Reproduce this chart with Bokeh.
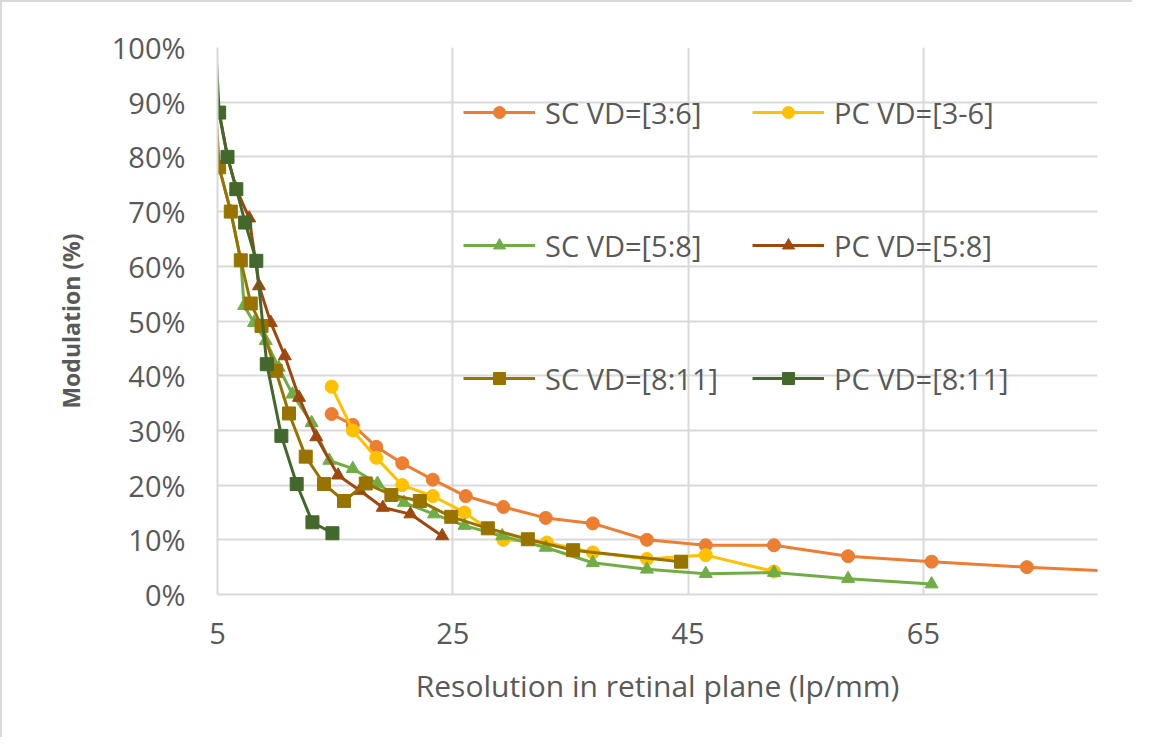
from bokeh.plotting import figure
from bokeh.models import Legend, LegendItem, Range1d, FixedTicker, PrintfTickFormatter
from bokeh.embed import file_html
from bokeh.resources import INLINE

# ---- data (x: lp/mm, y: modulation %) ----
sc36_x = [14.7, 16.5, 18.5, 20.7, 23.3, 26.1, 29.3, 32.9, 36.9, 41.5, 46.5, 52.3, 58.6, 65.7, 73.8, 84.0]
sc36_y = [33, 31, 27, 24, 21, 18, 16, 14, 13, 10, 9, 9, 7, 6, 5, 4]

pc36_x = [14.7, 16.5, 18.5, 20.7, 23.3, 26.0, 29.3, 33.0, 36.9, 41.5, 46.5, 52.3]
pc36_y = [38, 30, 25, 20, 18, 15, 10, 9.5, 7.7, 6.5, 7.2, 4.2]

sc58_x = [5.14, 6.13, 6.98, 7.26, 8.1, 9.1, 10.2, 11.37, 13.0, 14.5, 16.5, 18.6, 20.85, 23.4, 26.0, 29.2, 32.9, 36.9, 41.5, 46.5, 52.3, 58.6, 65.7]
sc58_y = [78.1, 70.0, 61.1, 52.8, 49.7, 46.4, 41.5, 36.6, 31.4, 24.5, 23.0, 20.3, 16.8, 14.7, 12.6, 10.7, 8.6, 5.8, 4.6, 3.8, 4.0, 2.9, 1.9]

pc58_x = [5.14, 5.85, 6.6, 7.7, 8.53, 9.53, 10.72, 11.93, 13.4, 15.25, 17.1, 19.05, 21.4, 24.1]
pc58_y = [88.1, 80, 74.1, 68.8, 56.4, 49.7, 43.6, 36.0, 28.8, 21.8, 19.0, 15.9, 14.7, 10.7]

sc811_x = [4.93, 5.14, 6.13, 6.98, 7.83, 8.74, 9.95, 11.08, 12.5, 14.05, 15.75, 17.6, 19.78, 22.2, 24.87, 27.98, 31.38, 35.23, 44.4]
sc811_y = [86, 78.1, 70.0, 61.1, 53.2, 49.1, 40.9, 33.1, 25.2, 20.2, 17.1, 20.3, 18.2, 17.1, 14.2, 12.1, 10.1, 8.1, 6.0]

pc811_x = [4.93, 5.14, 5.85, 6.6, 7.35, 8.3, 9.19, 10.43, 11.73, 13.07, 14.77]
pc811_y = [97, 88.1, 80.0, 74.1, 68.0, 61.0, 42.1, 29.0, 20.2, 13.2, 11.2]

labels = ["SC VD=[3:6]", "PC VD=[3-6]", "SC VD=[5:8]", "PC VD=[5:8]", "SC VD=[8:11]", "PC VD=[8:11]"]
colors = ["#ED7D31", "#FFC000", "#70AD47", "#9E480E", "#997300", "#43682B"]
markers = ["circle", "circle", "triangle", "triangle", "square", "square"]
x_ticks = [5, 25, 45, 65]
y_ticks = [0, 10, 20, 30, 40, 50, 60, 70, 80, 90, 100]
X_MIN, X_MAX = 5, 79.8

series = [(sc36_x, sc36_y), (pc36_x, pc36_y), (sc58_x, sc58_y),
          (pc58_x, pc58_y), (sc811_x, sc811_y), (pc811_x, pc811_y)]

FONT = "Open Sans"
TXT = "#595959"
GRID = "#d9d9d9"

p = figure(width=1132, height=737, output_backend="svg", toolbar_location=None,
           x_range=Range1d(X_MIN, X_MAX), y_range=Range1d(0, 100),
           min_border_left=215, min_border_right=37, min_border_top=45, min_border_bottom=145,
           background_fill_color="white", border_fill_color="white")
p.outline_line_color = None
p.styles = {"border-top": "2px solid #d9d9d9", "border-left": "2px solid #d9d9d9"}

p.xaxis.ticker = FixedTicker(ticks=x_ticks)
p.yaxis.ticker = FixedTicker(ticks=y_ticks)
p.yaxis.formatter = PrintfTickFormatter(format="%d%%")
p.grid.grid_line_color = GRID
p.grid.grid_line_width = 2
for ax in (p.xaxis[0], p.yaxis[0]):
    ax.axis_line_color = GRID
    ax.axis_line_width = 2
    ax.major_tick_line_color = None
    ax.minor_tick_line_color = None
    ax.major_label_text_font = FONT
    ax.major_label_text_font_size = "29px"
    ax.major_label_text_color = TXT
    ax.axis_label_text_font = FONT
    ax.axis_label_text_color = TXT
p.yaxis.major_label_standoff = 26
p.xaxis.major_label_standoff = 22
p.yaxis.axis_label = "Modulation (%)"
p.yaxis.axis_label_text_font_style = "bold"
p.yaxis.axis_label_text_font_size = "23px"
p.yaxis.axis_label_standoff = 22
p.xaxis.axis_label = "Resolution in retinal plane (lp/mm)"
p.xaxis.axis_label_text_font_style = "normal"
p.xaxis.axis_label_text_font_size = "30px"
p.xaxis.axis_label_standoff = 18

items = []
for (xs, ys), lab, col, mk in zip(series, labels, colors, markers):
    lr = p.line(xs, ys, line_color=col, line_width=3)
    # markers only for points inside the axis range (Excel clips them)
    mx = [x for x in xs if X_MIN <= x <= X_MAX]
    my = [y for x, y in zip(xs, ys) if X_MIN <= x <= X_MAX]
    sr = p.scatter(mx, my, marker=mk, size=13, fill_color=col, line_color=col)
    items.append(LegendItem(label=lab, renderers=[lr, sr]))

LH = 40
common = dict(orientation="vertical", spacing=133 - LH, padding=0, margin=0,
              glyph_width=72, glyph_height=30, label_height=LH, label_standoff=10,
              label_text_font=FONT, label_text_font_size="29px", label_text_color=TXT,
              background_fill_alpha=0, border_line_color=None)
leg1 = Legend(items=[items[0], items[2], items[4]], location=(246, 196), **common)
leg2 = Legend(items=[items[1], items[3], items[5]], location=(535, 196), **common)
p.add_layout(leg1)
p.add_layout(leg2)

open("out.html", "w").write(file_html(p, INLINE))
